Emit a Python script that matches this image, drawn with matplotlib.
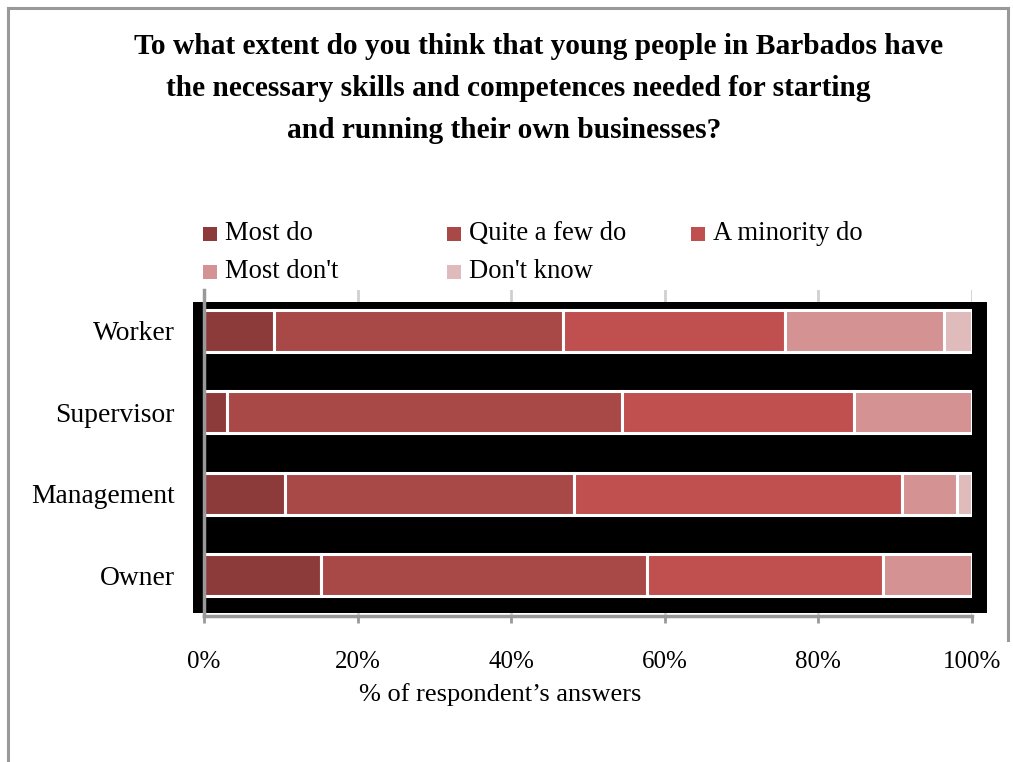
import matplotlib
matplotlib.use("Agg")
import matplotlib.pyplot as plt
from matplotlib.patches import Rectangle
from matplotlib.lines import Line2D
import numpy as np

plt.rcParams['font.family'] = ['Liberation Serif', 'DejaVu Serif']

# Respondent groups (top to bottom) and answer shares in percent
groups = ["Worker", "Supervisor", "Management", "Owner"]
answers = ["Most do", "Quite a few do", "A minority do", "Most don't", "Don't know"]
most_do = [9.1, 3.0, 10.5, 15.2]
quite_a_few_do = [37.6, 51.4, 37.7, 42.5]
a_minority_do = [29.0, 30.2, 42.7, 30.7]
most_dont = [20.7, 15.4, 7.1, 11.6]
dont_know = [3.6, 0.0, 2.0, 0.0]
series = [most_do, quite_a_few_do, a_minority_do, most_dont, dont_know]
colors = ["#8c3b3a", "#a94947", "#c0504f", "#d49292", "#e0bbbb"]
xticks = [0, 20, 40, 60, 80, 100]
xtick_labels = ["0%", "20%", "40%", "60%", "80%", "100%"]

title_lines = [
    "To what extent do you think that young people in Barbados have",
    "the necessary skills and competences needed for starting",
    "and running their own businesses?",
]

W, H = 1013, 762
fig = plt.figure(figsize=(W / 100, H / 100), dpi=100)

def fx(px):
    return px / W

def fy(py):
    return 1 - py / H

# outer frame
fig.add_artist(Line2D([fx(8), fx(8)], [fy(8), fy(762)], color="#999999", lw=2.2))
fig.add_artist(Line2D([fx(8), fx(1008)], [fy(8), fy(8)], color="#999999", lw=2.2))
fig.add_artist(Line2D([fx(1008), fx(1008)], [fy(8), fy(640)], color="#999999", lw=2.2))

# title
title_cx = [539, 518, 504]
for i, line in enumerate(title_lines):
    fig.text(fx(title_cx[i]), fy(47 + 42 * i), line, ha="center", va="center",
             fontsize=21.2, fontweight="bold")

ax = fig.add_axes([fx(204), fy(616), fx(972) - fx(204), fy(290) - fy(616)])

# black plot panel
panel = Rectangle((fx(193), fy(613)), fx(987) - fx(193), fy(302) - fy(613),
                  transform=fig.transFigure, facecolor="black", edgecolor="none",
                  zorder=1.5, clip_on=False)
ax.add_patch(panel)

y = np.arange(len(groups))
left = np.zeros(len(groups))
for vals, col, name in zip(series, colors, answers):
    vals = np.array(vals)
    mask = vals > 0
    ax.barh(y[mask], vals[mask], left=left[mask], height=0.52, color=col,
            edgecolor="white", linewidth=2.2, label=name, zorder=2)
    left += vals

ax.set_xlim(0, 100)
ax.set_ylim(len(groups) - 0.5, -0.5)
ax.set_yticks(y)
ax.set_yticklabels(groups, fontsize=19.8)
ax.set_xticks(xticks)
ax.set_xticklabels(xtick_labels, fontsize=18)
ax.tick_params(axis="y", length=0, pad=21)
ax.tick_params(axis="x", length=5, width=2, color="#999999", direction="out", pad=20)

ax.set_axisbelow(True)
ax.xaxis.grid(True, color="#d0d0d0", linewidth=2)
for s in ["top", "right"]:
    ax.spines[s].set_visible(False)
for s in ["left", "bottom"]:
    ax.spines[s].set_color("#999999")
    ax.spines[s].set_linewidth(2.5)
    ax.spines[s].set_zorder(3)
ax.patch.set_visible(False)

fig.text(fx(500), fy(695), "% of respondent\u2019s answers", ha="center", va="center",
         fontsize=19)

# legend, laid out row by row
leg_x = [203, 447, 691]
leg_y = [234, 272]
for i, (name, col) in enumerate(zip(answers, colors)):
    r, c = divmod(i, 3)
    x0, y0 = leg_x[c], leg_y[r]
    fig.add_artist(Rectangle((fx(x0), fy(y0 + 7)), fx(14), 14 / H,
                             facecolor=col, edgecolor="none"))
    fig.text(fx(x0 + 22), fy(y0), name, ha="left", va="center", fontsize=19.2)

fig.savefig("out.png", dpi=100)
